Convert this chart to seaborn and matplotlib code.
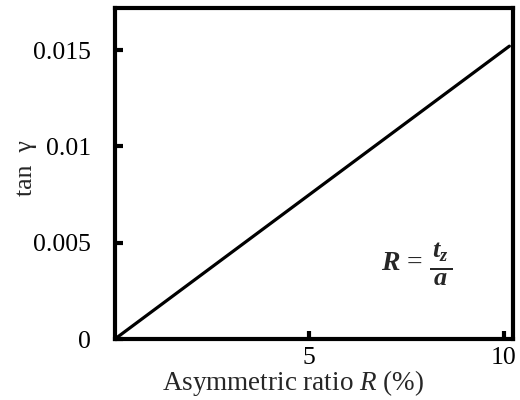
import matplotlib
matplotlib.use("Agg")
import matplotlib.pyplot as plt
import seaborn as sns
import pandas as pd

# Data
ratio_R = [0.0, 10.15]          # asymmetric ratio R (%)
tan_gamma = [0.0, 0.0152]       # tan gamma
x_ticks = [5, 10]
y_ticks = [0, 0.005, 0.01, 0.015]
y_tick_labels = ["0", "0.005", "0.01", "0.015"]

sns.set_style("ticks")
plt.rcParams['font.family'] = ['Liberation Serif', 'DejaVu Serif']
plt.rcParams['mathtext.fontset'] = 'custom'
plt.rcParams['mathtext.rm'] = 'Liberation Serif:bold'
plt.rcParams['mathtext.it'] = 'Liberation Serif:italic:bold'
plt.rcParams['mathtext.bf'] = 'Liberation Serif:bold'
plt.rcParams['mathtext.cal'] = 'Liberation Serif:italic'

df = pd.DataFrame({"R": ratio_R, "tan": tan_gamma})

fig = plt.figure(figsize=(5.2, 4.0), dpi=100)
ax = fig.add_axes([0.221, 0.1525, 0.766, 0.8275])

sns.lineplot(data=df, x="R", y="tan", ax=ax, color="black", linewidth=2.3)

ax.set_xlim(0, 10.25)
ax.set_ylim(0, 0.01718)
ax.set_xticks(x_ticks)
ax.set_xticklabels([str(t) for t in x_ticks])
ax.set_yticks(y_ticks)
ax.set_yticklabels(y_tick_labels)

for s in ax.spines.values():
    s.set_linewidth(3.0)
    s.set_color("black")
    s.set_visible(True)

ax.tick_params(axis="both", direction="in", length=6, width=3.0,
               labelsize=18.5, colors="black", pad=6)
ax.tick_params(axis="y", pad=17)

ax.set_xlabel(r"Asymmetric ratio $\mathcal{R}$ (%)", fontsize=19.5)
ax.xaxis.set_label_coords(0.447, -0.088)
ax.set_ylabel("tan  γ", fontsize=18.5)
ax.yaxis.set_label_coords(-0.196, 0.517)

# equation annotation: R = t_z / a
ax.text(0.772, 0.227, r"$R$ =", transform=ax.transAxes,
        fontsize=20, ha="right", va="center")
ax.text(0.818, 0.227, r"$\frac{\,t_z\,}{a}$", transform=ax.transAxes,
        fontsize=27, ha="center", va="center")

fig.savefig("out.png", dpi=100)
